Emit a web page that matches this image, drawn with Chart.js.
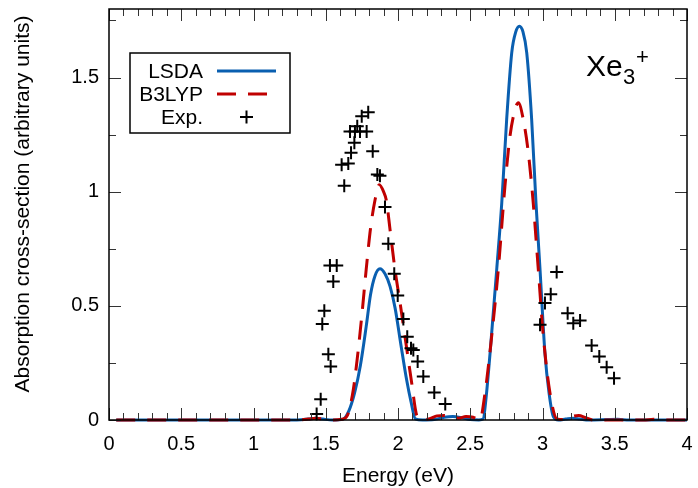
<!DOCTYPE html>
<html>
<head>
<meta charset="utf-8">
<script src="https://cdn.jsdelivr.net/npm/chart.js@4.4.1/dist/chart.umd.min.js"></script>
<style>
  html, body { margin: 0; padding: 0; background: #fff; }
  #wrap { width: 698px; height: 488px; }
</style>
</head>
<body>
<div id="wrap"><canvas id="spectrum" width="698" height="488"></canvas></div>
<script>
// LSDA spectrum (energy in eV, cross-section in arbitrary units)
const lsdaE = [0.05, 0.5, 1.0, 1.3, 1.38, 1.43, 1.48, 1.55, 1.62, 1.66,
  1.70, 1.74, 1.78, 1.81, 1.84, 1.875, 1.91, 1.945, 1.98, 2.02,
  2.06, 2.09, 2.12, 2.17, 2.25, 2.32, 2.38, 2.44, 2.5, 2.56,
  2.59, 2.61, 2.637, 2.683, 2.718, 2.752, 2.787, 2.815, 2.84, 2.865,
  2.891, 2.925, 2.955, 2.983, 3.017, 3.045, 3.075, 3.11, 3.16, 3.21,
  3.26, 3.32, 3.45, 3.52, 3.6, 4.0];
const lsdaY = [0, 0, 0, 0, 0.004, 0.008, 0.004, 0, 0.004, 0.04,
  0.12, 0.24, 0.41, 0.55, 0.63, 0.662, 0.64, 0.585, 0.49, 0.33,
  0.175, 0.08, 0.005, 0, 0.002, 0.012, 0.015, 0.01, 0.002, 0,
  0.005, 0.1, 0.292, 0.658, 0.95, 1.316, 1.608, 1.70, 1.725, 1.70,
  1.608, 1.316, 0.95, 0.658, 0.292, 0.12, 0.015, 0, 0.004, 0.008,
  0.004, 0, 0.002, 0.003, 0, 0];

// B3LYP spectrum
const b3lypE = [0.05, 0.5, 1.0, 1.3, 1.38, 1.43, 1.48, 1.55, 1.61, 1.65,
  1.69, 1.72, 1.75, 1.78, 1.81, 1.84, 1.87, 1.90, 1.92, 1.945,
  1.98, 2.015, 2.055, 2.095, 2.13, 2.17, 2.22, 2.27, 2.32, 2.37,
  2.42, 2.47, 2.52, 2.567, 2.602, 2.648, 2.694, 2.74, 2.775, 2.81,
  2.833, 2.867, 2.902, 2.936, 2.971, 3.006, 3.052, 3.10, 3.15, 3.2,
  3.25, 3.3, 3.35, 3.7, 3.77, 3.84, 4.0];
const b3lypY = [0, 0, 0, 0, 0.004, 0.008, 0.004, 0, 0.003, 0.02,
  0.13, 0.28, 0.46, 0.66, 0.84, 0.96, 1.03, 1.00, 0.96, 0.833,
  0.655, 0.51, 0.336, 0.161, 0.02, 0, 0.006, 0.018, 0.02, 0.014,
  0.008, 0.015, 0.012, 0, 0.117, 0.365, 0.658, 1.023, 1.243, 1.36,
  1.389, 1.316, 1.17, 0.95, 0.658, 0.365, 0.117, 0.005, 0.002, 0.015,
  0.02, 0.01, 0, 0, 0.003, 0, 0];

// measured photoabsorption
const expE = [1.437, 1.465, 1.476, 1.490, 1.518, 1.529, 1.534, 1.552, 1.576, 1.610,
  1.628, 1.656, 1.668, 1.675, 1.698, 1.702, 1.718, 1.737, 1.749, 1.783,
  1.794, 1.825, 1.857, 1.875, 1.910, 1.933, 1.974, 1.998, 2.037, 2.064,
  2.090, 2.106, 2.136, 2.175, 2.251, 2.327,
  2.983, 3.017, 3.057, 3.098, 3.174, 3.213, 3.260, 3.340, 3.393, 3.444, 3.495];
const expY = [0.026, 0.091, 0.420, 0.478, 0.288, 0.677, 0.234, 0.607, 0.677, 1.118,
  1.026, 1.123, 1.263, 1.170, 1.214, 1.263, 1.286, 1.263, 1.330, 1.263,
  1.348, 1.177, 1.075, 1.070, 0.933, 0.772, 0.640, 0.545, 0.442, 0.365,
  0.314, 0.307, 0.256, 0.190, 0.120, 0.070,
  0.417, 0.512, 0.551, 0.648, 0.468, 0.424, 0.436, 0.326, 0.278, 0.231, 0.183];

const xTicks = [0, 0.5, 1, 1.5, 2, 2.5, 3, 3.5, 4];
const yTicks = [0, 0.5, 1, 1.5];

const FONT = 'Liberation Sans, Arial, Helvetica, sans-serif';
const BLUE = '#0a5fb0';
const RED = '#c00000';

const toPoints = (xs, ys) => xs.map((x, i) => ({ x: x, y: ys[i] }));

// drop the label overhang padding so the plot box sits where the layout says
const noOverhang = (s) => {
  s.paddingLeft = s.paddingRight = s.paddingTop = s.paddingBottom = 0;
};

// gnuplot-like frame with inward ticks, key box and axis titles
const framePlugin = {
  id: 'frame',
  afterDraw(chart) {
    const { ctx, chartArea: a, scales } = chart;
    const xs = scales.x, ys = scales.y;
    ctx.save();
    ctx.strokeStyle = '#333';
    ctx.lineWidth = 1;
    ctx.beginPath();
    for (let i = 0; i <= 40; i++) {
      const v = i / 10;
      const px = Math.round(xs.getPixelForValue(v)) + 0.5;
      const len = i % 5 === 0 ? 12 : 7;
      ctx.moveTo(px, a.bottom); ctx.lineTo(px, a.bottom - len);
      ctx.moveTo(px, a.top); ctx.lineTo(px, a.top + len);
    }
    for (let i = 0; i * 0.25 <= 1.8; i++) {
      const v = i * 0.25;
      const py = Math.round(ys.getPixelForValue(v)) + 0.5;
      const len = i % 2 === 0 ? 12 : 7;
      ctx.moveTo(a.left, py); ctx.lineTo(a.left + len, py);
      ctx.moveTo(a.right, py); ctx.lineTo(a.right - len, py);
    }
    ctx.stroke();

    ctx.strokeStyle = '#000';
    ctx.lineWidth = 1.5;
    ctx.strokeRect(a.left, a.top, a.right - a.left, a.bottom - a.top);

    // axis titles
    ctx.fillStyle = '#000';
    ctx.font = '21px ' + FONT;
    ctx.textAlign = 'center';
    ctx.textBaseline = 'alphabetic';
    ctx.fillText('Energy (eV)', (a.left + a.right) / 2, 481.5);
    ctx.save();
    ctx.translate(29, 204);
    ctx.rotate(-Math.PI / 2);
    ctx.fillText('Absorption cross-section (arbitrary units)', 0, 0);
    ctx.restore();

    // key
    const ds = chart.data.datasets;
    ctx.lineWidth = 1.5;
    ctx.strokeRect(130, 53, 160, 80);
    ctx.font = '21px ' + FONT;
    ctx.textAlign = 'right';
    ctx.textBaseline = 'middle';
    const rows = [71, 94, 117];
    ds.forEach((d, i) => {
      const y = rows[i];
      ctx.fillText(d.label, 203, y + 1);
      ctx.strokeStyle = d.borderColor;
      if (d.showLine === false) {
        ctx.lineWidth = d.pointBorderWidth;
        ctx.beginPath();
        ctx.moveTo(240, y); ctx.lineTo(253, y);
        ctx.moveTo(246.5, y - 6.5); ctx.lineTo(246.5, y + 6.5);
        ctx.stroke();
      } else {
        ctx.lineWidth = d.borderWidth;
        ctx.setLineDash(d.borderDash || []);
        ctx.beginPath();
        ctx.moveTo(217, y); ctx.lineTo(276, y);
        ctx.stroke();
        ctx.setLineDash([]);
      }
    });

    // species label
    ctx.textAlign = 'left';
    ctx.textBaseline = 'alphabetic';
    ctx.font = '30px ' + FONT;
    ctx.fillText('Xe', 586, 76);
    ctx.font = '22px ' + FONT;
    ctx.fillText('3', 623, 84);
    ctx.fillText('+', 636, 64);
    ctx.restore();
  }
};

new Chart(document.getElementById('spectrum'), {
  type: 'line',
  data: {
    datasets: [
      {
        label: 'LSDA',
        data: toPoints(lsdaE, lsdaY),
        borderColor: BLUE,
        borderWidth: 3,
        pointRadius: 0,
        cubicInterpolationMode: 'monotone',
        clip: 4,
        order: 2
      },
      {
        label: 'B3LYP',
        data: toPoints(b3lypE, b3lypY),
        borderColor: RED,
        borderWidth: 3,
        borderDash: [19, 12],
        pointRadius: 0,
        cubicInterpolationMode: 'monotone',
        clip: 4,
        order: 1
      },
      {
        label: 'Exp.',
        data: toPoints(expE, expY),
        showLine: false,
        borderColor: '#000',
        backgroundColor: '#000',
        pointStyle: 'cross',
        pointRadius: 6.5,
        pointBorderWidth: 2,
        clip: 8,
        order: 0
      }
    ]
  },
  options: {
    responsive: false,
    animation: false,
    events: [],
    layout: { padding: { left: 0, right: 11, top: 9, bottom: 0 } },
    plugins: {
      legend: { display: false },
      tooltip: { enabled: false }
    },
    scales: {
      x: {
        type: 'linear',
        min: 0,
        max: 4,
        afterBuildTicks: (s) => { s.ticks = xTicks.map(v => ({ value: v })); },
        afterFit: (s) => { s.height = 68; noOverhang(s); },
        grid: { display: false, drawTicks: false },
        border: { display: false },
        ticks: {
          padding: 12,
          color: '#000',
          font: { family: FONT, size: 20 },
          callback: (v) => String(v)
        }
      },
      y: {
        type: 'linear',
        min: 0,
        max: 1.8,
        afterBuildTicks: (s) => { s.ticks = yTicks.map(v => ({ value: v })); },
        afterFit: (s) => { s.width = 109; noOverhang(s); },
        grid: { display: false, drawTicks: false },
        border: { display: false },
        ticks: {
          padding: 10,
          color: '#000',
          font: { family: FONT, size: 20 },
          callback: (v) => String(v)
        }
      }
    }
  },
  plugins: [framePlugin]
});
</script>
</body>
</html>
